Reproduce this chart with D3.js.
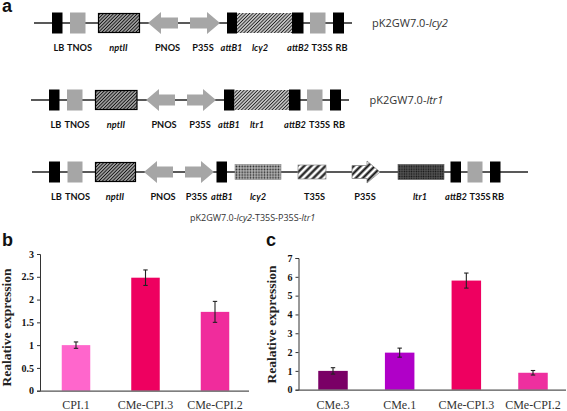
<!DOCTYPE html>
<html><head><meta charset="utf-8">
<script src="https://cdn.jsdelivr.net/npm/d3@7/dist/d3.min.js"></script>
<style>html,body{margin:0;padding:0;background:#fff}svg{display:block}</style>
</head><body><div id="c"></div>
<script>
// Panel b
const bCategories = ["CPI.1","CMe-CPI.3","CMe-CPI.2"];
const bValues = [1.0,2.48,1.73];
const bErrors = [0.07,0.17,0.23];
const bColors = ["#ff66cc","#ee0060","#f02c9c"];
const bTicks = [0,0.5,1,1.5,2,2.5,3];
// Panel c
const cCategories = ["CMe.3","CMe.1","CMe-CPI.3","CMe-CPI.2"];
const cValues = [1.0,1.97,5.8,0.9];
const cErrors = [0.17,0.24,0.4,0.12];
const cColors = ["#7a0066","#b000c8","#ee0060","#ee2f9f"];
const cTicks = [0,1,2,3,4,5,6,7];
// Construct maps: [kind, start, end] along the map ruler
const row1Parts = [["black",52,62.5],["gray",70,85.5],["hatch",98,140],["left",148,178],["right",190,220],["black",227,237],["hatch2",237,292],["black",292,303.5],["gray",310,325.5],["black",333,344]];
const row1Line = [34,352];
const row2Parts = [["black",49,59.5],["gray",67,82.5],["hatch",95,137.5],["left",146,175],["right",187,216],["black",224,234.5],["hatch2",234.5,289],["black",289,300.5],["gray",307,322.5],["black",330,341]];
const row2Line = [31,349];
const row3Parts = [["black",49,60],["gray",67.5,82.5],["hatch",95,136],["left",144,173],["right",185,214],["black",216.5,227],["dots",235,281],["stripe",298,326],["stripeArrow",352,380],["dark",398,444],["black",450.5,461],["gray",467.5,482.5],["black",490,500.5]];
const row3Line = [32,528];
const row1Labels = [["LB",59,0],["TNOS",79.5,0],["nptII",118.5,1],["PNOS",167.5,0],["P35S",203,0],["attB1",231.5,1],["lcy2",260,1],["attB2",298,1],["T35S",322,0],["RB",341.5,0]];
const row2Labels = [["LB",56,0],["TNOS",77,0],["nptII",116,1],["PNOS",164,0],["P35S",200,0],["attB1",229,1],["ltr1",257,1],["attB2",295,1],["T35S",319.5,0],["RB",339,0]];
const row3Labels = [["LB",56.5,0],["TNOS",77.5,0],["nptII",115,1],["PNOS",163,0],["P35S",196.5,0],["attB1",222,1],["lcy2",258,1],["T35S",314.5,0],["P35S",365,0],["ltr1",420,1],["attB2",456,1],["T35S",480,0],["RB",498,0]];

const W=567,H=411;
const svg=d3.select("#c").append("svg").attr("width",W).attr("height",H).attr("viewBox",[0,0,W,H]);
const defs=svg.append("defs");
const soft=defs.append("filter").attr("id","soft").attr("x","-5%").attr("y","-5%").attr("width","110%").attr("height","110%");
soft.append("feGaussianBlur").attr("stdDeviation",0.3);
function hatch(id,size,bg,fg,sw,angle){
  const p=defs.append("pattern").attr("id",id).attr("width",size).attr("height",size).attr("patternUnits","userSpaceOnUse").attr("patternTransform",`rotate(${angle})`);
  p.append("rect").attr("width",size).attr("height",size).attr("fill",bg);
  p.append("line").attr("x1",0).attr("y1",size/2).attr("x2",size).attr("y2",size/2).attr("stroke",fg).attr("stroke-width",sw);
}
hatch("h1",2.4,"#d8d8d8","#111",1.3,-45);
hatch("h2",2.4,"#e6e6e6","#222",1.1,-45);
hatch("st",5,"#fff","#111",2.2,-45);
const dp=defs.append("pattern").attr("id","dt").attr("width",2.8).attr("height",2.8).attr("patternUnits","userSpaceOnUse");
dp.append("rect").attr("width",2.8).attr("height",2.8).attr("fill","#b5b5b5");
dp.append("circle").attr("cx",1.4).attr("cy",1.4).attr("r",0.85).attr("fill","#222");
const dk=defs.append("pattern").attr("id","dk").attr("width",2.4).attr("height",2.4).attr("patternUnits","userSpaceOnUse");
dk.append("rect").attr("width",2.4).attr("height",2.4).attr("fill","#555");
dk.append("circle").attr("cx",1.2).attr("cy",1.2).attr("r",0.75).attr("fill","#111");

const map=d3.scaleLinear().domain([0,W]).range([0,W]);
const dia=svg.append("g").attr("filter","url(#soft)");

function arrowPath(x0,x1,y,dir,sh){
  const hl=13,hh=11;
  if(dir>0) return `M${x0},${y-sh}H${x1-hl}V${y-hh}L${x1},${y}L${x1-hl},${y+hh}V${y+sh}H${x0}Z`;
  return `M${x1},${y-sh}H${x0+hl}V${y-hh}L${x0},${y}L${x0+hl},${y+hh}V${y+sh}H${x1}Z`;
}
function drawRow(parts,line,y){
  const g=dia.append("g");
  g.append("line").attr("x1",map(line[0])).attr("x2",map(line[1])).attr("y1",y).attr("y2",y).attr("stroke","#222").attr("stroke-width",1.3);
  g.selectAll("g.part").data(parts).join("g").attr("class","part").each(function(d){
    const s=d3.select(this),x0=map(d[1]),x1=map(d[2]),w=x1-x0;
    const r=(h,fill,st,sw)=>s.append("rect").attr("x",x0).attr("y",y-h).attr("width",w).attr("height",h*2).attr("fill",fill).attr("stroke",st||"none").attr("stroke-width",sw||0);
    switch(d[0]){
      case "black": r(10.5,"#000");break;
      case "gray": r(10.5,"#a6a6a6");break;
      case "hatch": s.append("rect").attr("x",x0+.5).attr("y",y-9.5).attr("width",w-1).attr("height",19).attr("fill","url(#h1)").attr("stroke","#000").attr("stroke-width",1.2);break;
      case "hatch2": r(10,"url(#h2)");break;
      case "left": s.append("path").attr("d",arrowPath(x0,x1,y,-1,5.5)).attr("fill","#a6a6a6");break;
      case "right": s.append("path").attr("d",arrowPath(x0,x1,y,1,5.5)).attr("fill","#a6a6a6");break;
      case "dots": r(7.5,"url(#dt)","#888",0.6);break;
      case "stripe": r(7,"url(#st)","#888",0.7);break;
      case "stripeArrow": s.append("path").attr("d",arrowPath(x0,x1,y,1,6.5)).attr("fill","url(#st)").attr("stroke","#777").attr("stroke-width",0.7);break;
      case "dark": r(7.5,"url(#dk)","#555",0.6);break;
    }
  });
}
drawRow(row1Parts,row1Line,23);
drawRow(row2Parts,row2Line,100);
drawRow(row3Parts,row3Line,172);

function drawLabels(labels,y){
  svg.append("g").selectAll("text").data(labels).join("text")
    .attr("x",d=>map(d[1])).attr("y",y).attr("text-anchor","middle")
    .attr("font-family","Lato,sans-serif").attr("font-size",9.2).attr("font-weight",700)
    .attr("font-style",d=>d[2]?"italic":"normal").attr("fill","#111").text(d=>d[0]);
}
drawLabels(row1Labels,50.5);
drawLabels(row2Labels,127.5);
drawLabels(row3Labels,199.5);

function construct(x,y,size,parts,anchor){
  const t=svg.append("text").attr("x",x).attr("y",y).attr("font-family","'Open Sans',sans-serif").attr("font-size",size).attr("fill","#333").attr("text-anchor",anchor||"start");
  parts.forEach(p=>t.append("tspan").attr("font-style",p[1]?"italic":"normal").text(p[0]));
}
construct(372,27,11,[["pK2GW7.0-",0],["lcy2",1]]);
construct(369.5,104,11,[["pK2GW7.0-",0],["ltr1",1]]);
construct(190,221,9,[["pK2GW7.0-",0],["lcy2",1],["-T35S-P35S-",0],["ltr1",1]]);

function panelLetter(t,x,y){svg.append("text").attr("x",x).attr("y",y).attr("font-family","'Liberation Sans',Arial,sans-serif").attr("font-weight",700).attr("font-size",18).attr("fill","#111").text(t);}
panelLetter("a",2,12);panelLetter("b",2,246);panelLetter("c",266,246);

function barPanel(o){
  const y=d3.scaleLinear().domain(o.domain).range([o.y0,o.y1]);
  const x=d3.scalePoint().domain(o.cats).range(o.xr);
  const g=svg.append("g");
  const bars=o.cats.map((c,i)=>({c,v:o.vals[i],e:o.errs[i],col:o.cols[i]}));
  g.selectAll("rect.bar").data(bars).join("rect").attr("class","bar")
    .attr("x",d=>x(d.c)-o.bw/2).attr("width",o.bw).attr("y",d=>y(d.v)).attr("height",d=>o.y0-y(d.v)).attr("fill",d=>d.col);
  const ax=g.append("g").attr("transform",`translate(${o.ax},0)`).call(d3.axisLeft(y).tickValues(o.ticks).tickFormat(d3.format("")).tickSize(3).tickPadding(3));
  ax.selectAll("path,line").attr("stroke","#333").attr("stroke-width",1);
  ax.selectAll("text").attr("font-family","'Liberation Serif',serif").attr("font-weight",700).attr("font-size",10).attr("fill","#111");
  g.append("line").attr("x1",o.ax).attr("x2",o.xEnd).attr("y1",o.y0+.5).attr("y2",o.y0+.5).attr("stroke","#555").attr("stroke-width",1.2);
  const eb=g.selectAll("g.err").data(bars).join("g").attr("class","err").attr("stroke","#222").attr("stroke-width",1.1);
  eb.append("line").attr("x1",d=>x(d.c)).attr("x2",d=>x(d.c)).attr("y1",d=>y(d.v+d.e)).attr("y2",d=>y(d.v-d.e));
  [1,-1].forEach(s=>eb.append("line").attr("x1",d=>x(d.c)-2.2).attr("x2",d=>x(d.c)+2.2).attr("y1",d=>y(d.v+s*d.e)).attr("y2",d=>y(d.v+s*d.e)));
  g.selectAll("text.cat").data(o.cats).join("text").attr("class","cat").attr("x",d=>x(d)).attr("y",409).attr("text-anchor","middle")
    .attr("font-family","'Liberation Serif',serif").attr("font-size",12).attr("fill","#333").text(d=>d);
  g.append("text").attr("transform",`translate(${o.ylx},${o.yly}) rotate(-90)`).attr("text-anchor","middle")
    .attr("font-family","'Liberation Serif',serif").attr("font-weight",700).attr("font-size",13.5).attr("fill","#222").text("Realative expression");
}
barPanel({cats:bCategories,vals:bValues,errs:bErrors,cols:bColors,ticks:bTicks,domain:[0,3],y0:390.7,y1:254,xr:[76,215],bw:28.5,ax:40,xEnd:249,ylx:11,yly:327.5});
barPanel({cats:cCategories,vals:cValues,errs:cErrors,cols:cColors,ticks:cTicks,domain:[0,7],y0:389.7,y1:258,xr:[333,533],bw:29.5,ax:298.5,xEnd:566,ylx:276,yly:324.5});
</script></body></html>
